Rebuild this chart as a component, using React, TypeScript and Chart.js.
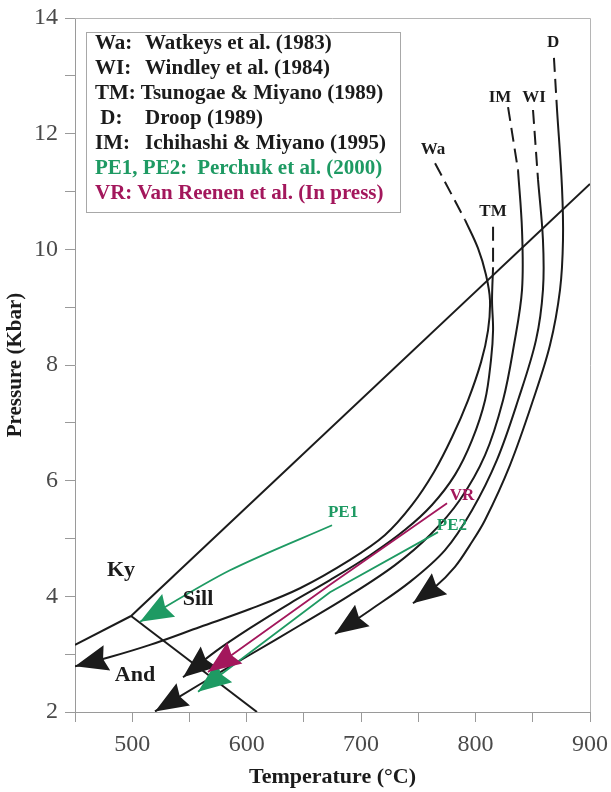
import React, { useEffect, useRef } from "react";
import { Chart, registerables } from "chart.js";
Chart.register(...registerables);

const SERIF = '"Liberation Serif", "Times New Roman", Times, serif';
const BLACK = "#1b1b1b";
const GREEN = "#1e9a63";
const MAGENTA = "#a3175c";

// Axis ranges (T in °C, P in kbar)
const tempMin = 450;
const tempMax = 900;
const pressMin = 2;
const pressMax = 14;

// Al2SiO5 phase boundaries
const andKyT = [450, 499];
const andKyP = [3.16, 3.66];
const kySillT = [499, 900];
const kySillP = [3.66, 11.13];
const sillAndT = [499, 609];
const sillAndP = [3.66, 2.0];

// Wa: Watkeys et al. (1983)
const waDashT = [764.6, 790.8];
const waDashP = [11.49, 10.51];
const waT = [790.8, 802.1, 809.1, 812.6, 810.9, 804.8, 793.4, 779.4, 763.7, 744.5, 720.9, 690.3, 646.6, 602.9, 559.2, 515.5, 480.6, 450.0];
const waP = [10.51, 10.02, 9.56, 9.12, 8.6, 8.05, 7.39, 6.75, 6.15, 5.58, 5.06, 4.63, 4.14, 3.78, 3.47, 3.16, 2.95, 2.79];

// TM: Tsunogae & Miyano (1989)
const tmDashT = [815.3, 815.3];
const tmDashP = [10.39, 9.69];
const tmT = [815.3, 814.4, 815.3, 813.5, 808.3, 796.9, 782.0, 761.9, 738.4, 707.8, 672.8, 637.9, 602.9, 572.3, 544.4];
const tmP = [9.69, 9.12, 8.6, 8.09, 7.39, 6.7, 6.1, 5.58, 5.15, 4.71, 4.28, 3.88, 3.45, 3.04, 2.6];

// IM: Ichihashi & Miyano (1995)
const imDashT = [828.4, 837.1];
const imDashP = [12.46, 11.37];
const imT = [837.1, 840.6, 840.6, 833.6, 824.0, 808.3, 786.4, 760.2, 729.6, 690.3, 646.6, 602.9, 559.2, 519.9];
const imP = [11.37, 10.33, 9.3, 8.35, 7.39, 6.44, 5.67, 5.06, 4.54, 4.02, 3.5, 2.99, 2.48, 2.01];

// WI: Windley et al. (1984)
const wiDashT = [850.2, 854.6];
const wiDashP = [12.41, 11.2];
const wiT = [854.6, 858.9, 858.9, 852.8, 837.1, 818.7, 796.9, 773.3, 742.7, 707.8, 677.2];
const wiP = [11.2, 10.16, 9.3, 8.43, 7.39, 6.36, 5.49, 4.8, 4.25, 3.76, 3.35];

// D: Droop (1989)
const dDashT = [868.5, 871.2];
const dDashP = [13.31, 12.41];
const dT = [871.2, 875.5, 876.4, 873.8, 865.1, 850.2, 830.1, 808.3, 795.2, 782.0, 764.6, 745.3];
const dP = [12.41, 11.08, 10.16, 9.3, 8.35, 7.39, 6.27, 5.32, 4.89, 4.51, 4.16, 3.88];

// PE1, PE2: Perchuk et al. (2000); VR: Van Reenen et al.
const pe1T = [674.6, 585.4, 506.8];
const pe1P = [5.23, 4.45, 3.56];
const pe2T = [767.2, 672.8, 557.5];
const pe2P = [5.11, 4.07, 2.35];
const vrT = [775.1, 672.8, 566.2];
const vrP = [5.61, 4.2, 2.69];

// Text labels anchored in data space
const pathLabelText = ["Wa", "TM", "IM", "WI", "D", "PE1", "VR", "PE2"];
const pathLabelT = [762.8, 815.3, 821.4, 851.1, 867.7, 684.2, 788.2, 779.4];
const pathLabelP = [11.72, 10.65, 12.62, 12.62, 13.57, 5.44, 5.75, 5.23];
const pathLabelColor = [BLACK, BLACK, BLACK, BLACK, BLACK, GREEN, MAGENTA, GREEN];

const fieldLabelText = ["Ky", "Sill", "And"];
const fieldLabelT = [490.2, 557.5, 502.4];
const fieldLabelP = [4.45, 3.94, 2.64];

// Reference legend
const legendAbbr = ["Wa:", "WI:", "TM:", " D:", "IM:", "PE1, PE2:", "VR:"];
const legendRef = [
  "Watkeys et al. (1983)",
  "Windley et al. (1984)",
  "Tsunogae & Miyano (1989)",
  "Droop (1989)",
  "Ichihashi & Miyano (1995)",
  "Perchuk et al. (2000)",
  "Van Reenen et al. (In press)",
];
const legendColor = [BLACK, BLACK, BLACK, BLACK, BLACK, GREEN, MAGENTA];

const pts = (T: number[], P: number[]) => T.map((t, i) => ({ x: t, y: P[i] }));

function line(T: number[], P: number[], color: string, opts: any = {}) {
  return {
    data: pts(T, P),
    showLine: true,
    borderColor: color,
    backgroundColor: color,
    borderWidth: 2,
    pointRadius: 0,
    pointHoverRadius: 0,
    fill: false,
    tension: 0,
    ...opts,
  };
}

const DASH = [14, 7];

const arrowPlugin = {
  id: "arrowHeads",
  afterDatasetsDraw(chart: any) {
    const ctx = chart.ctx;
    const n = chart.data.datasets.length;
    for (let i = n - 1; i >= 0; i--) {
      const ds: any = chart.data.datasets[i];
      if (!ds.arrow) continue;
      const meta = chart.getDatasetMeta(i);
      const el = meta.data;
      const a = el[el.length - 2];
      const b = el[el.length - 1];
      const ang = Math.atan2(b.y - a.y, b.x - a.x);
      const L = 33;
      const W = 13;
      ctx.save();
      ctx.translate(b.x, b.y);
      ctx.rotate(ang);
      ctx.beginPath();
      ctx.moveTo(0, 0);
      ctx.lineTo(-L, -W);
      ctx.lineTo(-L * 0.88, 0);
      ctx.lineTo(-L, W);
      ctx.closePath();
      ctx.fillStyle = ds.borderColor;
      ctx.fill();
      ctx.restore();
    }
  },
};

const framePlugin = {
  id: "frame",
  beforeDatasetsDraw(chart: any) {
    const { ctx, chartArea } = chart;
    ctx.save();
    ctx.strokeStyle = "#b5b5b5";
    ctx.lineWidth = 1;
    ctx.beginPath();
    ctx.moveTo(chartArea.left, chartArea.top + 0.5);
    ctx.lineTo(chartArea.right + 0.5, chartArea.top + 0.5);
    ctx.lineTo(chartArea.right + 0.5, chartArea.bottom);
    ctx.stroke();
    ctx.restore();
  },
};

const textPlugin = {
  id: "texts",
  afterDatasetsDraw(chart: any) {
    const { ctx } = chart;
    const xs = chart.scales.x;
    const ys = chart.scales.y;
    ctx.save();
    ctx.textAlign = "center";
    ctx.textBaseline = "middle";
    ctx.font = `bold 17px ${SERIF}`;
    pathLabelText.forEach((t, i) => {
      ctx.fillStyle = pathLabelColor[i];
      ctx.fillText(t, xs.getPixelForValue(pathLabelT[i]), ys.getPixelForValue(pathLabelP[i]));
    });
    ctx.font = `bold 22px ${SERIF}`;
    ctx.fillStyle = BLACK;
    fieldLabelText.forEach((t, i) => {
      ctx.fillText(t, xs.getPixelForValue(fieldLabelT[i]), ys.getPixelForValue(fieldLabelP[i]));
    });
    ctx.restore();
  },
  afterDraw(chart: any) {
    const { ctx, chartArea } = chart;
    const bx = chartArea.left + 11;
    const by = chartArea.top + 14;
    const bw = 314;
    const bh = 180;
    ctx.save();
    ctx.fillStyle = "#ffffff";
    ctx.fillRect(bx, by, bw, bh);
    ctx.strokeStyle = "#a8a8a8";
    ctx.lineWidth = 1;
    ctx.strokeRect(bx + 0.5, by + 0.5, bw, bh);
    ctx.font = `bold 21px ${SERIF}`;
    ctx.textBaseline = "middle";
    ctx.textAlign = "left";
    legendAbbr.forEach((a, i) => {
      const y = by + 12 + i * 25;
      ctx.fillStyle = legendColor[i];
      const x0 = bx + 9;
      ctx.fillText(a, x0, y);
      const w = ctx.measureText(a).width;
      let rx = bx + 59;
      if (i === 2) rx = x0 + w + 5;
      if (i >= 5) rx = x0 + w + (i === 5 ? 10 : 5);
      ctx.fillText(legendRef[i], rx, y);
    });
    ctx.restore();
  },
};

export default function App() {
  const ref = useRef<HTMLCanvasElement>(null);
  useEffect(() => {
    document.body.style.margin = "0";
    const T = 0.35;
    const datasets: any[] = [
      line(vrT, vrP, MAGENTA, { arrow: true, borderWidth: 1.8 }),
      line(pe2T, pe2P, GREEN, { arrow: true, borderWidth: 1.8 }),
      line(pe1T, pe1P, GREEN, { arrow: true, borderWidth: 1.8, tension: 0.3 }),
      line(andKyT, andKyP, BLACK),
      line(kySillT, kySillP, BLACK),
      line(sillAndT, sillAndP, BLACK),
      line(waDashT, waDashP, BLACK, { borderDash: DASH }),
      line(waT, waP, BLACK, { arrow: true, tension: T }),
      line(tmDashT, tmDashP, BLACK, { borderDash: DASH }),
      line(tmT, tmP, BLACK, { arrow: true, tension: T }),
      line(imDashT, imDashP, BLACK, { borderDash: DASH }),
      line(imT, imP, BLACK, { arrow: true, tension: T }),
      line(wiDashT, wiDashP, BLACK, { borderDash: DASH }),
      line(wiT, wiP, BLACK, { arrow: true, tension: T }),
      line(dDashT, dDashP, BLACK, { borderDash: DASH }),
      line(dT, dP, BLACK, { arrow: true, tension: T }),
    ];
    const chart = new Chart(ref.current as HTMLCanvasElement, {
      type: "scatter",
      data: { datasets },
      options: {
        responsive: false,
        animation: false,
        events: [],
        layout: { padding: { left: 0, top: 18, right: 21, bottom: 0 } },
        plugins: { legend: { display: false }, tooltip: { enabled: false } },
        scales: {
          x: {
            type: "linear",
            min: tempMin,
            max: tempMax,
            afterFit: (s: any) => {
              s.height = 80;
              s.paddingRight = 0;
              s.paddingLeft = 0;
            },
            ticks: {
              stepSize: 50,
              autoSkip: false,
              maxRotation: 0,
              padding: 8,
              color: "#4a4a4a",
              font: { family: SERIF, size: 24 },
              callback: (v: any) => (Number(v) % 100 === 0 ? String(v) : ""),
            },
            grid: { drawOnChartArea: false, drawTicks: true, tickLength: 10, color: "#9a9a9a" },
            border: { display: true, color: "#9a9a9a", width: 1 },
            title: {
              display: true,
              text: "Temperature (°C)",
              color: "#1b1b1b",
              font: { family: SERIF, size: 22, weight: "bold" },
              padding: { top: 0, bottom: 1 },
            },
          },
          y: {
            type: "linear",
            min: pressMin,
            max: pressMax,
            afterFit: (s: any) => {
              s.width = 75;
              s.paddingTop = 0;
              s.paddingBottom = 0;
            },
            ticks: {
              stepSize: 1,
              autoSkip: false,
              padding: 7,
              color: "#4a4a4a",
              font: { family: SERIF, size: 24 },
              callback: (v: any) => (Number(v) % 2 === 0 ? String(v) : ""),
            },
            grid: { drawOnChartArea: false, drawTicks: true, tickLength: 10, color: "#9a9a9a" },
            border: { display: true, color: "#9a9a9a", width: 1 },
            title: {
              display: true,
              text: "Pressure (Kbar)",
              color: "#1b1b1b",
              font: { family: SERIF, size: 21, weight: "bold" },
              padding: { top: 3, bottom: 0 },
            },
          },
        },
      } as any,
      plugins: [framePlugin, arrowPlugin, textPlugin],
    });
    return () => chart.destroy();
  }, []);
  return (
    <div style={{ position: "absolute", left: 0, top: 0, width: 611, height: 792 }}>
      <canvas ref={ref} width={611} height={792} style={{ display: "block", width: 611, height: 792 }} />
    </div>
  );
}
